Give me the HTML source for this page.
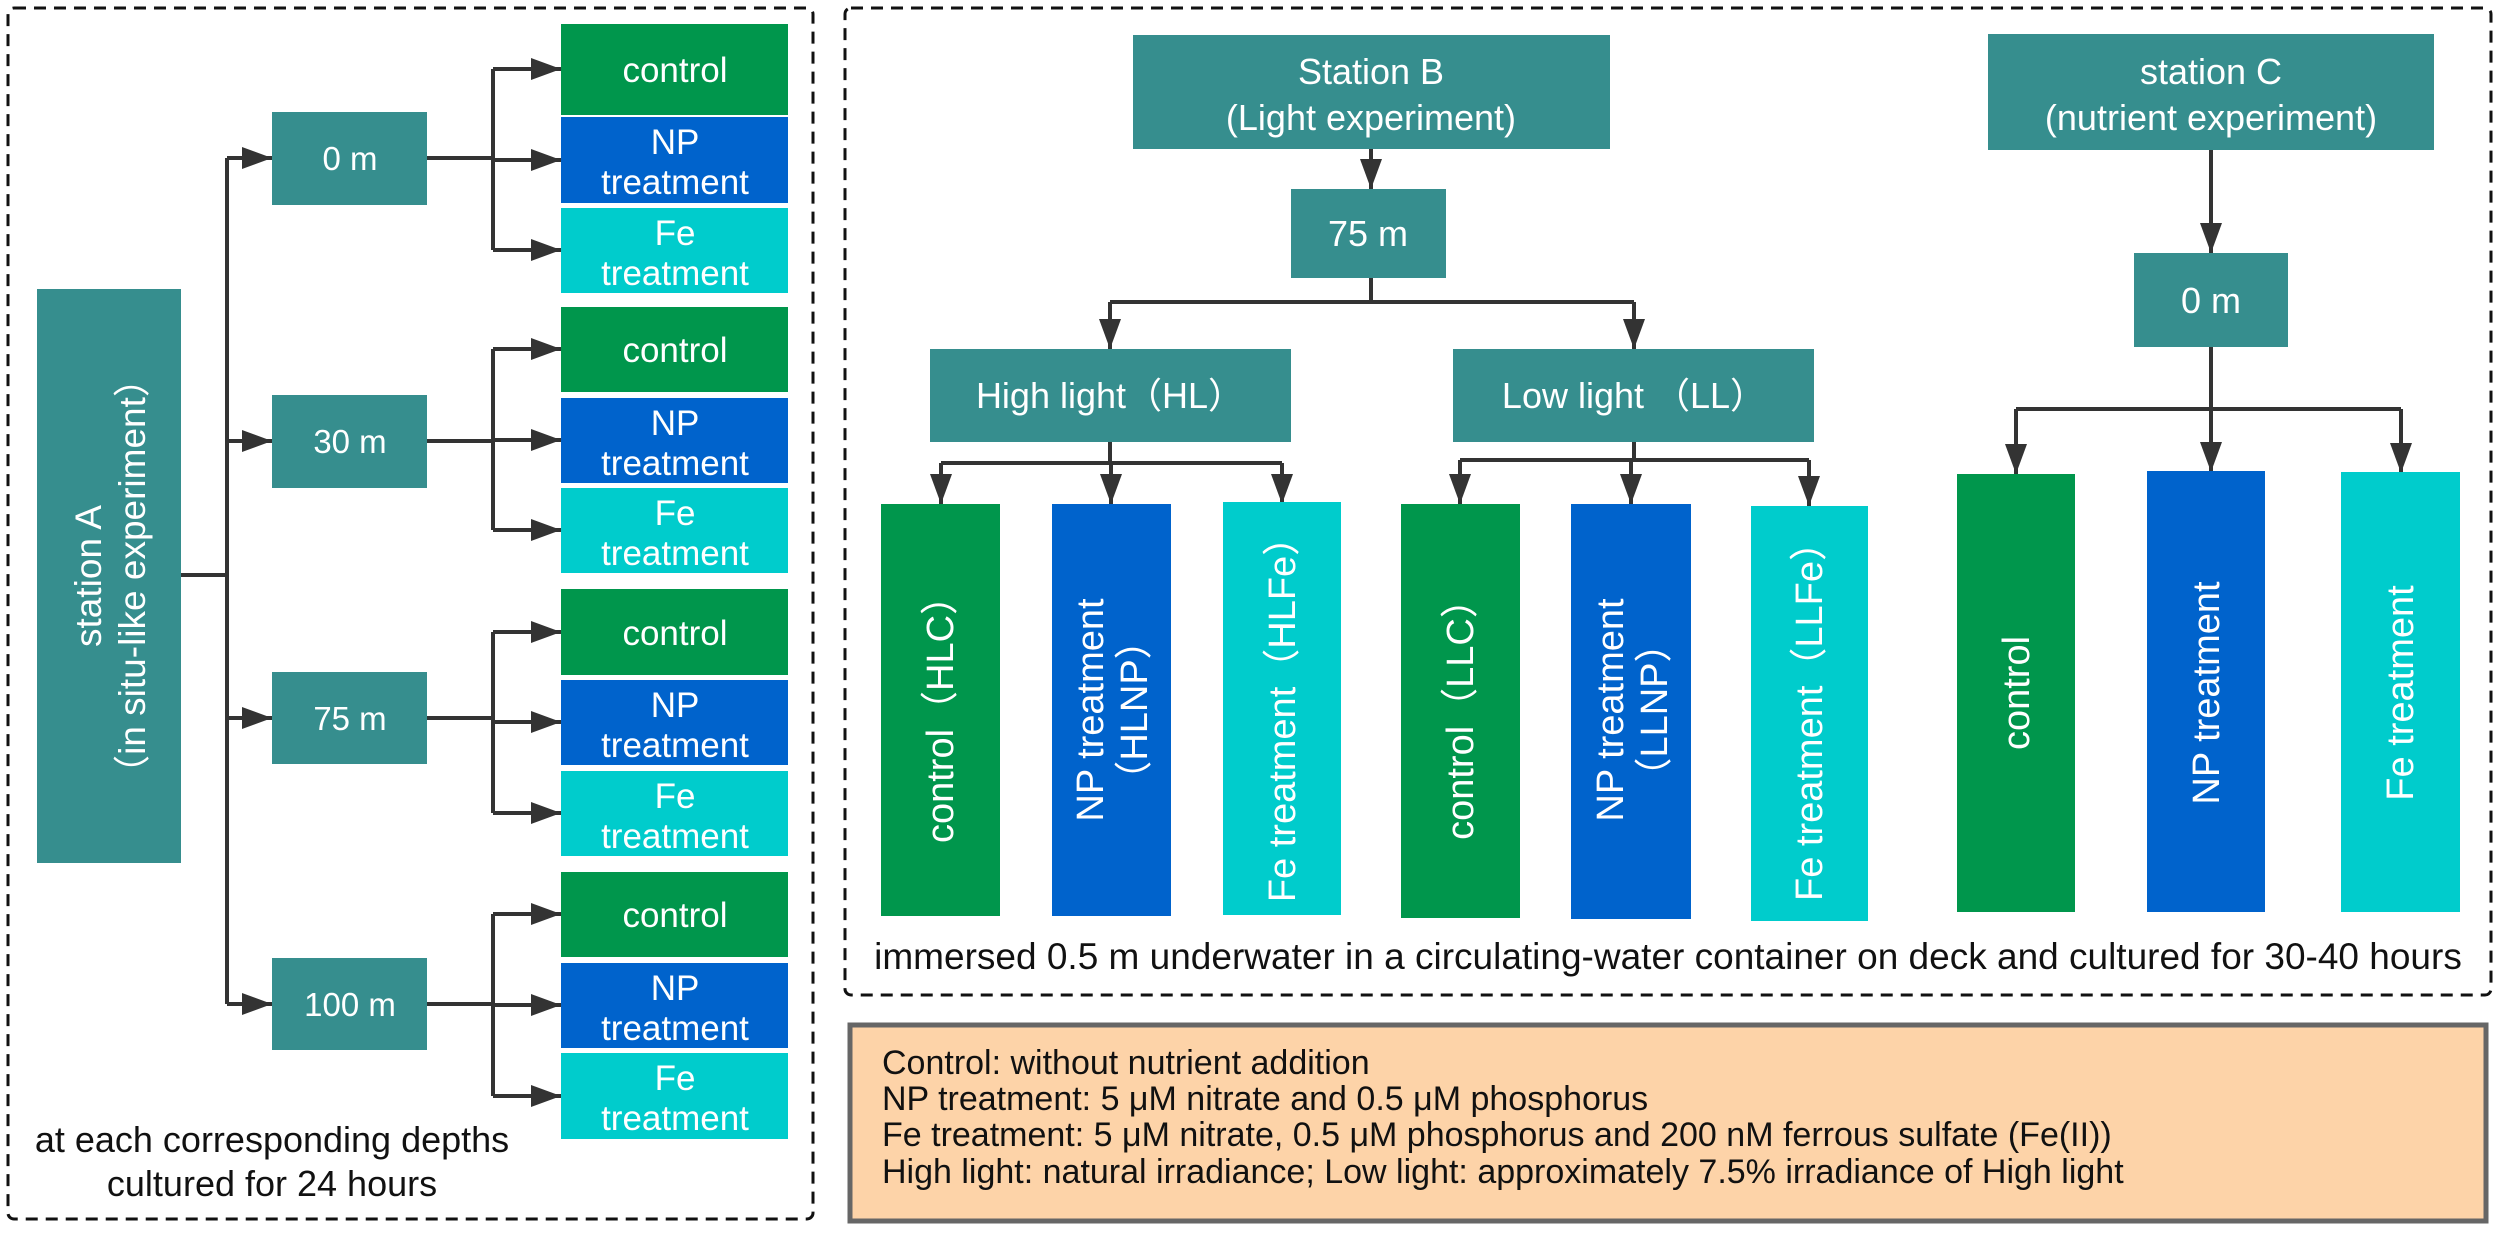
<!DOCTYPE html>
<html><head><meta charset="utf-8"><style>
html,body{margin:0;padding:0;background:#fff;}
svg{display:block;}
text{font-family:"Liberation Sans","Noto Sans CJK SC",sans-serif;}
</style></head><body>
<svg width="2500" height="1239" viewBox="0 0 2500 1239" xmlns="http://www.w3.org/2000/svg">
<defs>
<marker id="a" markerUnits="userSpaceOnUse" markerWidth="32" markerHeight="24" refX="30" refY="12" orient="auto">
<path d="M0,1 L30,12 L0,23 Z" fill="#333"/>
</marker>
</defs>
<rect width="2500" height="1239" fill="#fff"/>
<rect x="8" y="8" width="805" height="1211" rx="6" fill="none" stroke="#111" stroke-width="3" stroke-dasharray="12 8"/>
<rect x="845" y="8" width="1646" height="987" rx="6" fill="none" stroke="#111" stroke-width="3" stroke-dasharray="12 8"/>

<g stroke="#333" stroke-width="4" fill="none">
<line x1="181" y1="575" x2="227" y2="575"/>
<line x1="227" y1="158" x2="227" y2="1004"/>
<line x1="227" y1="158" x2="272" y2="158" marker-end="url(#a)"/>
<line x1="227" y1="441" x2="272" y2="441" marker-end="url(#a)"/>
<line x1="227" y1="718" x2="272" y2="718" marker-end="url(#a)"/>
<line x1="227" y1="1004" x2="272" y2="1004" marker-end="url(#a)"/>
<line x1="427" y1="158" x2="493" y2="158"/><line x1="493" y1="69" x2="493" y2="250"/>
<line x1="493" y1="69" x2="561" y2="69" marker-end="url(#a)"/><line x1="493" y1="160" x2="561" y2="160" marker-end="url(#a)"/><line x1="493" y1="250" x2="561" y2="250" marker-end="url(#a)"/>
<line x1="427" y1="441" x2="493" y2="441"/><line x1="493" y1="349" x2="493" y2="530"/>
<line x1="493" y1="349" x2="561" y2="349" marker-end="url(#a)"/><line x1="493" y1="440" x2="561" y2="440" marker-end="url(#a)"/><line x1="493" y1="530" x2="561" y2="530" marker-end="url(#a)"/>
<line x1="427" y1="718" x2="493" y2="718"/><line x1="493" y1="632" x2="493" y2="813"/>
<line x1="493" y1="632" x2="561" y2="632" marker-end="url(#a)"/><line x1="493" y1="722" x2="561" y2="722" marker-end="url(#a)"/><line x1="493" y1="813" x2="561" y2="813" marker-end="url(#a)"/>
<line x1="427" y1="1004" x2="493" y2="1004"/><line x1="493" y1="914" x2="493" y2="1096"/>
<line x1="493" y1="914" x2="561" y2="914" marker-end="url(#a)"/><line x1="493" y1="1005" x2="561" y2="1005" marker-end="url(#a)"/><line x1="493" y1="1096" x2="561" y2="1096" marker-end="url(#a)"/>
<line x1="1371" y1="149" x2="1371" y2="189" marker-end="url(#a)"/>
<line x1="1371" y1="278" x2="1371" y2="302"/>
<line x1="1110" y1="302" x2="1634" y2="302"/>
<line x1="1110" y1="302" x2="1110" y2="349" marker-end="url(#a)"/>
<line x1="1634" y1="302" x2="1634" y2="349" marker-end="url(#a)"/>
<line x1="1110" y1="442" x2="1110" y2="463"/>
<line x1="941" y1="463" x2="1282" y2="463"/>
<line x1="941" y1="463" x2="941" y2="504" marker-end="url(#a)"/>
<line x1="1111" y1="463" x2="1111" y2="504" marker-end="url(#a)"/>
<line x1="1282" y1="463" x2="1282" y2="504" marker-end="url(#a)"/>
<line x1="1634" y1="442" x2="1634" y2="460"/>
<line x1="1460" y1="460" x2="1809" y2="460"/>
<line x1="1460" y1="460" x2="1460" y2="504" marker-end="url(#a)"/>
<line x1="1631" y1="460" x2="1631" y2="504" marker-end="url(#a)"/>
<line x1="1809" y1="460" x2="1809" y2="506" marker-end="url(#a)"/>
<line x1="2211" y1="150" x2="2211" y2="253" marker-end="url(#a)"/>
<line x1="2211" y1="347" x2="2211" y2="409"/>
<line x1="2016" y1="409" x2="2401" y2="409"/>
<line x1="2016" y1="409" x2="2016" y2="474" marker-end="url(#a)"/>
<line x1="2211" y1="409" x2="2211" y2="472" marker-end="url(#a)"/>
<line x1="2401" y1="409" x2="2401" y2="473" marker-end="url(#a)"/>
</g>

<rect x="37" y="289" width="144" height="574" fill="#368E8E"/>
<text transform="translate(109,576) rotate(-90)" text-anchor="middle" fill="#fff" font-size="37"><tspan x="0" y="-8">station A</tspan><tspan x="0" y="36">（in situ-like experiment）</tspan></text>
<g fill="#368E8E">
<rect x="272" y="112" width="155" height="93"/><rect x="272" y="395" width="155" height="93"/>
<rect x="272" y="672" width="155" height="92"/><rect x="272" y="958" width="155" height="92"/>
</g>
<g fill="#fff" font-size="33" text-anchor="middle">
<text x="350" y="170">0 m</text><text x="350" y="453">30 m</text><text x="350" y="730">75 m</text><text x="350" y="1016">100 m</text>
</g>
<g>
<rect x="561" y="24" width="227" height="91" fill="#00964C"/><rect x="561" y="117" width="227" height="86" fill="#0063CC"/><rect x="561" y="208" width="227" height="85" fill="#00CCCC"/>
<rect x="561" y="307" width="227" height="85" fill="#00964C"/><rect x="561" y="398" width="227" height="85" fill="#0063CC"/><rect x="561" y="488" width="227" height="85" fill="#00CCCC"/>
<rect x="561" y="589" width="227" height="86" fill="#00964C"/><rect x="561" y="680" width="227" height="85" fill="#0063CC"/><rect x="561" y="771" width="227" height="85" fill="#00CCCC"/>
<rect x="561" y="872" width="227" height="85" fill="#00964C"/><rect x="561" y="963" width="227" height="85" fill="#0063CC"/><rect x="561" y="1053" width="227" height="86" fill="#00CCCC"/>
</g>
<g fill="#fff" font-size="35" text-anchor="middle">
<text x="675" y="82">control</text><text x="675" y="154">NP</text><text x="675" y="194">treatment</text><text x="675" y="245">Fe</text><text x="675" y="285">treatment</text>
<text x="675" y="362">control</text><text x="675" y="435">NP</text><text x="675" y="475">treatment</text><text x="675" y="525">Fe</text><text x="675" y="565">treatment</text>
<text x="675" y="645">control</text><text x="675" y="717">NP</text><text x="675" y="757">treatment</text><text x="675" y="808">Fe</text><text x="675" y="848">treatment</text>
<text x="675" y="927">control</text><text x="675" y="1000">NP</text><text x="675" y="1040">treatment</text><text x="675" y="1090">Fe</text><text x="675" y="1130">treatment</text>
</g>
<g font-size="36" text-anchor="middle" fill="#111">
<text x="272" y="1152">at each corresponding depths</text>
<text x="272" y="1196">cultured for 24 hours</text>
</g>

<g fill="#368E8E">
<rect x="1133" y="35" width="477" height="114"/>
<rect x="1291" y="189" width="155" height="89"/>
<rect x="930" y="349" width="361" height="93"/>
<rect x="1453" y="349" width="361" height="93"/>
<rect x="1988" y="34" width="446" height="116"/>
<rect x="2134" y="253" width="154" height="94"/>
</g>
<g fill="#fff" font-size="36" text-anchor="middle">
<text x="1371" y="84">Station B</text><text x="1371" y="130">(Light experiment)</text>
<text x="1368" y="246">75 m</text>
<text x="1110" y="408">High light（HL）</text>
<text x="1634" y="408">Low light  （LL）</text>
<text x="2211" y="84">station C</text><text x="2211" y="130">(nutrient experiment)</text>
<text x="2211" y="313">0 m</text>
</g>
<rect x="881" y="504" width="119" height="412" fill="#00964C"/>
<rect x="1052" y="504" width="119" height="412" fill="#0063CC"/>
<rect x="1223" y="502" width="118" height="413" fill="#00CCCC"/>
<rect x="1401" y="504" width="119" height="414" fill="#00964C"/>
<rect x="1571" y="504" width="120" height="415" fill="#0063CC"/>
<rect x="1751" y="506" width="117" height="415" fill="#00CCCC"/>
<rect x="1957" y="474" width="118" height="438" fill="#00964C"/>
<rect x="2147" y="471" width="118" height="441" fill="#0063CC"/>
<rect x="2341" y="472" width="119" height="440" fill="#00CCCC"/>
<g fill="#fff" font-size="38" text-anchor="middle">
<text transform="translate(940,710) rotate(-90)" x="0" y="13">control（HLC）</text>
<text transform="translate(1111,710) rotate(-90)"><tspan x="0" y="-8">NP treatment</tspan><tspan x="0" y="36">（HLNP）</tspan></text>
<text transform="translate(1282,710) rotate(-90)" x="0" y="13">Fe treatment（HLFe）</text>
<text transform="translate(1460,710) rotate(-90)" x="0" y="13">control（LLC）</text>
<text transform="translate(1631,710) rotate(-90)"><tspan x="0" y="-8">NP treatment</tspan><tspan x="0" y="36">（LLNP）</tspan></text>
<text transform="translate(1809,712) rotate(-90)" x="0" y="13">Fe treatment（LLFe）</text>
<text transform="translate(2016,693) rotate(-90)" x="0" y="13">control</text>
<text transform="translate(2206,693) rotate(-90)" x="0" y="13">NP treatment</text>
<text transform="translate(2400,693) rotate(-90)" x="0" y="13">Fe treatment</text>
</g>
<text x="1668" y="969" font-size="37" text-anchor="middle" fill="#111">immersed 0.5 m underwater in a circulating-water container on deck and cultured for 30-40 hours</text>

<rect x="850" y="1025" width="1636" height="196" fill="#FDD3A8" stroke="#666" stroke-width="5"/>
<g font-size="34" fill="#111">
<text x="882" y="1074">Control: without nutrient addition</text>
<text x="882" y="1110">NP treatment: 5 μM nitrate and 0.5 μM phosphorus</text>
<text x="882" y="1146">Fe treatment: 5 μM nitrate, 0.5 μM phosphorus and 200 nM ferrous sulfate (Fe(II))</text>
<text x="882" y="1183">High light: natural irradiance; Low light: approximately 7.5% irradiance of High light</text>
</g>
</svg>
</body></html>
